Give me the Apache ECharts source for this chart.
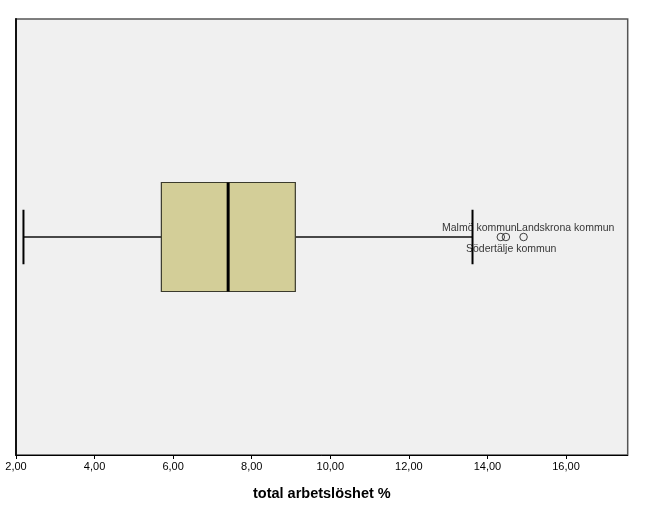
<!DOCTYPE html>
<html><head><meta charset="utf-8">
<script src="https://cdn.jsdelivr.net/npm/echarts@6/dist/echarts.min.js"></script>
<style>html,body{margin:0;padding:0;background:#fff}#c{width:656px;height:510px}</style>
</head><body><div id="c"></div>
<script>
// ---- data ----
const categories = ['total arbetslöshet %'];
const boxStats = [2.19, 5.70, 7.40, 9.11, 13.62]; // lower whisker, Q1, median, Q3, upper whisker
const outlierNames = ['Malmö kommun', 'Södertälje kommun', 'Landskrona kommun'];
const outlierValues = [14.34, 14.47, 14.92];
const axisMin = 2, axisMax = 17.57, axisStep = 2;
const axisTitle = 'total arbetslöshet %';

const labelOffsets = {
  'Malmö kommun': [-21.5, -9],
  'Södertälje kommun': [5.3, 12],
  'Landskrona kommun': [41.7, -9]
};

const chart = echarts.init(document.getElementById('c'), null, {renderer: 'canvas'});
const FONT = '"Liberation Sans", Arial, sans-serif';

const option = {
  animation: false,
  grid: {left: 16, right: 28.3, top: 19, bottom: 55, show: true,
    backgroundColor: '#f0f0f0', borderColor: '#555', borderWidth: 1.5},
  xAxis: {
    type: 'value', min: axisMin, max: axisMax, interval: axisStep,
    axisLine: {show: true, lineStyle: {color: '#000', width: 1}},
    axisTick: {show: true, length: 4, lineStyle: {color: '#000'}},
    splitLine: {show: false},
    axisLabel: {
      margin: 6, fontSize: 11, color: '#000', fontFamily: FONT, showMaxLabel: false,
      formatter: v => (Math.abs(v / axisStep - Math.round(v / axisStep)) < 1e-6) ? v.toFixed(2).replace('.', ',') : ''
    },
    name: axisTitle, nameLocation: 'middle', nameGap: 31,
    nameTextStyle: {fontSize: 14.5, fontWeight: 'bold', color: '#000', fontFamily: FONT}
  },
  yAxis: {
    type: 'category', data: categories, boundaryGap: true,
    axisLine: {show: true, lineStyle: {color: '#111', width: 2}},
    axisTick: {show: false}, axisLabel: {show: false}, splitLine: {show: false}
  },
  series: [
    {
      type: 'custom',
      data: [[...boxStats, 0]],
      encode: {x: [0, 1, 2, 3, 4], y: 5},
      silent: true,
      renderItem: function (params, api) {
        const lo = api.value(0), q1 = api.value(1), med = api.value(2), q3 = api.value(3), hi = api.value(4);
        const cat = api.value(5);
        const yc = api.coord([q1, cat])[1];
        const band = api.size([0, 1])[1];
        const bh = band * 0.25, ch = band * 0.125;
        const xLo = api.coord([lo, cat])[0], xQ1 = api.coord([q1, cat])[0],
              xMed = api.coord([med, cat])[0], xQ3 = api.coord([q3, cat])[0], xHi = api.coord([hi, cat])[0];
        const line = (x1, y1, x2, y2, w, c) => ({type: 'line', shape: {x1, y1, x2, y2}, style: {stroke: c, lineWidth: w}});
        return {type: 'group', children: [
          line(xLo, yc, xQ1, yc, 1.5, '#111'),
          line(xQ3, yc, xHi, yc, 1.5, '#111'),
          {type: 'rect', shape: {x: xQ1, y: yc - bh / 2, width: xQ3 - xQ1, height: bh},
            style: {fill: '#d3ce98', stroke: '#3a3a2c', lineWidth: 1.2}},
          line(xMed, yc - bh / 2, xMed, yc + bh / 2, 3, '#000'),
          line(xLo, yc - ch / 2, xLo, yc + ch / 2, 2, '#000'),
          line(xHi, yc - ch / 2, xHi, yc + ch / 2, 2, '#000')
        ]};
      }
    },
    {
      type: 'scatter',
      silent: true,
      symbol: 'circle', symbolSize: 7.5,
      itemStyle: {color: 'rgba(0,0,0,0)', borderColor: '#111', borderWidth: 1},
      data: outlierNames.map((n, i) => ({
        name: n, value: [outlierValues[i], 0],
        label: {show: true, position: 'inside', offset: labelOffsets[n], formatter: '{b}',
          fontSize: 10.5, color: '#000', textBorderWidth: 0, fontFamily: FONT, align: 'center', verticalAlign: 'middle'}
      })),
      emphasis: {disabled: true}
    }
  ]
};
chart.setOption(option);
</script>
</body></html>
